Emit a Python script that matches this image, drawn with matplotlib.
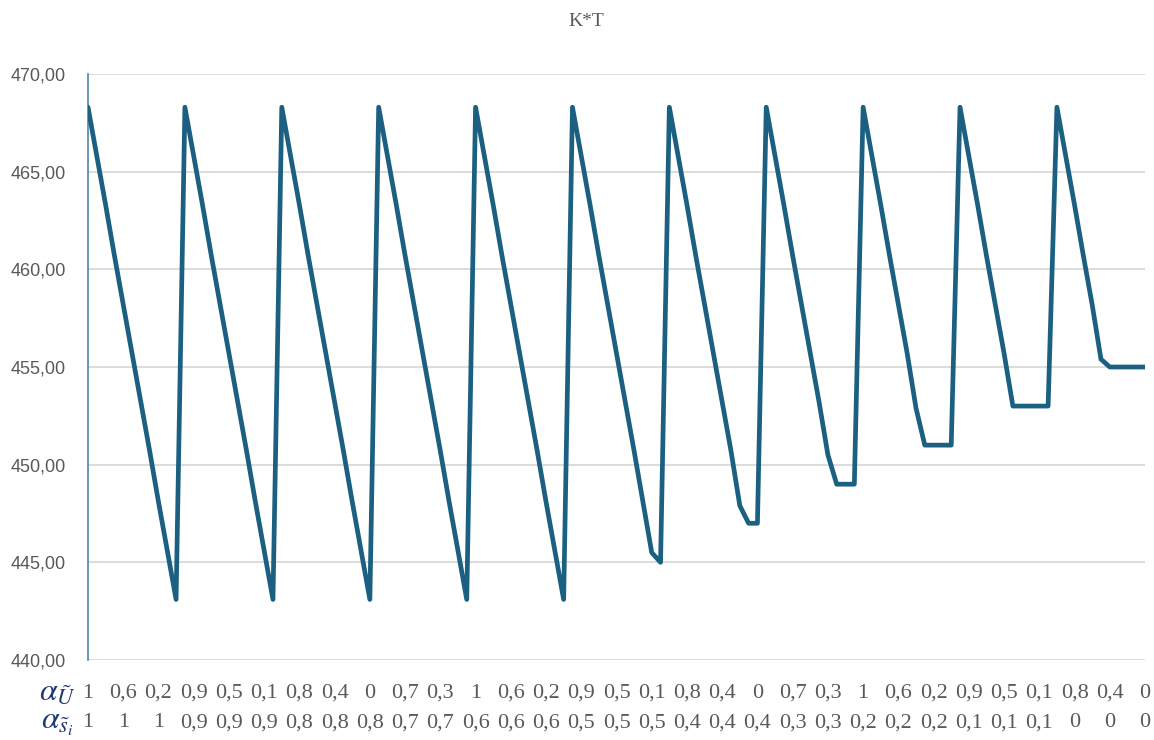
import matplotlib.pyplot as plt
import numpy as np

plt.rcParams['mathtext.fontset'] = 'stix'

# alpha_s value of each group of 11 points, alpha_U runs 1 -> 0 inside a group
ALPHA_S = [1, 0.9, 0.8, 0.7, 0.6, 0.5, 0.4, 0.3, 0.2, 0.1, 0]
ALPHA_U = [1, 0.9, 0.8, 0.7, 0.6, 0.5, 0.4, 0.3, 0.2, 0.1, 0]

# K*T, one list per alpha_s group
KT_GROUPS = [
    [468.3, 465.8, 463.3, 460.7, 458.2, 455.7, 453.2, 450.7, 448.1, 445.6, 443.1],
    [468.3, 465.8, 463.3, 460.7, 458.2, 455.7, 453.2, 450.7, 448.1, 445.6, 443.1],
    [468.3, 465.8, 463.3, 460.7, 458.2, 455.7, 453.2, 450.7, 448.1, 445.6, 443.1],
    [468.3, 465.8, 463.3, 460.7, 458.2, 455.7, 453.2, 450.7, 448.1, 445.6, 443.1],
    [468.3, 465.8, 463.3, 460.7, 458.2, 455.7, 453.2, 450.7, 448.1, 445.6, 443.1],
    [468.3, 465.8, 463.3, 460.7, 458.2, 455.7, 453.2, 450.7, 448.1, 445.5, 445.0],
    [468.3, 465.8, 463.3, 460.7, 458.2, 455.7, 453.2, 450.7, 447.9, 447.0, 447.0],
    [468.3, 465.8, 463.3, 460.7, 458.2, 455.7, 453.2, 450.5, 449.0, 449.0, 449.0],
    [468.3, 465.8, 463.3, 460.7, 458.2, 455.7, 452.9, 451.0, 451.0, 451.0, 451.0],
    [468.3, 465.8, 463.3, 460.7, 458.2, 455.7, 453.0, 453.0, 453.0, 453.0, 453.0],
    [468.3, 465.8, 463.3, 460.7, 458.2, 455.4, 455.0, 455.0, 455.0, 455.0, 455.0],
]

Y_TICKS = [440, 445, 450, 455, 460, 465, 470]

LINE_COLOR = "#1b6080"
GRAY = "#595959"


def fmt(v):
    s = f"{v:g}".replace(".", ",")
    return s


kt = [v for g in KT_GROUPS for v in g]
a_u = [u for _ in ALPHA_S for u in ALPHA_U]
a_s = [s for s in ALPHA_S for _ in ALPHA_U]
x = np.arange(len(kt))

fig = plt.figure(figsize=(11.54, 7.40), dpi=100)
ax = fig.add_axes([88 / 1154, 80 / 740, 1057 / 1154, 586 / 740])

ax.plot(x, kt, color=LINE_COLOR, linewidth=3.4, solid_joinstyle="round",
        solid_capstyle="round", zorder=3)

ax.set_xlim(0, len(kt) - 1)
ax.set_ylim(440, 470)
ax.set_yticks(Y_TICKS)
ax.set_yticklabels([f"{t:.2f}".replace(".", ",") for t in Y_TICKS],
                   family="Liberation Sans", fontsize=13, color=GRAY)
ax.grid(axis="y", color="#d9d9d9", linewidth=1.3)
ax.set_axisbelow(True)

ticks = x[::4]
ax.set_xticks(ticks)
ax.set_xticklabels([f"{fmt(a_u[i])}\n{fmt(a_s[i])}" for i in ticks],
                   family="Liberation Serif", fontsize=16, color=GRAY,
                   linespacing=1.75)
ax.tick_params(axis="both", length=0)
ax.tick_params(axis="x", pad=17)
ax.tick_params(axis="y", pad=16)

for side in ["top", "right", "bottom"]:
    ax.spines[side].set_visible(False)
ax.spines["left"].set_color("#4f86a6")
ax.spines["left"].set_linewidth(1.2)

fig.text(57 / 1154, 1 - 692 / 740, r"$\alpha_{\tilde{U}}$", fontsize=23,
         color="#1f3a6e", ha="center", va="center")
fig.text(57 / 1154, 1 - 722 / 740, r"$\alpha_{\tilde{s}_{i}}$", fontsize=23,
         color="#1f3a6e", ha="center", va="center")

fig.text(586 / 1154, 1 - 22 / 740, "K*T", family="Liberation Serif",
         fontsize=14, color=GRAY, ha="center", va="center")

fig.savefig("out.png", dpi=100)
